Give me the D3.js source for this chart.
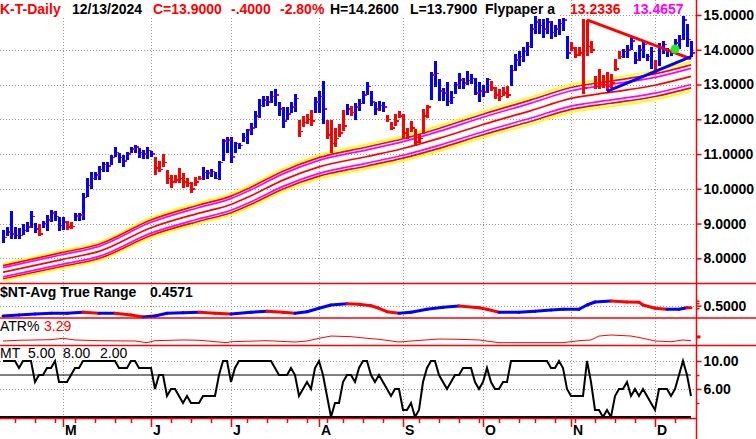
<!DOCTYPE html>
<html>
<head>
<meta charset="utf-8">
<script src="https://cdn.jsdelivr.net/npm/d3@7"></script>
<style>
  body { margin: 0; background: #fff; }
  svg { display: block; font-family: 'Liberation Sans', Arial, sans-serif; }
</style>
</head>
<body>
<script>
const ticker = 'K-T-Daily'
const lastDate = '12/13/2024'

// daily bars, 10 Apr .. 13 Dec 2024 (TSX sessions)
const highs = [
  8.82, 8.90, 9.36, 8.90, 8.87, 8.99, 9.04, 9.36, 9.01, 8.99,
  9.07, 9.25, 9.39, 9.36, 9.19, 9.19, 9.07, 9.04, 9.30, 9.30,
  9.89, 10.32, 10.49, 10.49, 10.66, 10.78, 10.78, 10.98, 11.21, 11.04,
  10.98, 11.07, 11.21, 11.27, 11.18, 11.13, 11.21, 11.10, 10.92, 10.81,
  11.01, 10.55, 10.40, 10.40, 10.60, 10.46, 10.32, 10.20, 10.35, 10.37,
  10.64, 10.54, 10.57, 10.49, 10.80, 11.43, 11.50, 11.50, 11.34, 11.31,
  11.61, 11.71, 11.88, 12.23, 12.57, 12.66, 12.66, 12.80, 12.86, 12.49,
  12.34, 12.34, 12.49, 12.72, 11.97, 12.08, 12.14, 12.26, 12.63, 12.80,
  13.09, 11.99, 11.99, 11.76, 11.85, 12.28, 12.43, 12.37, 12.46, 12.57,
  12.80, 13.06, 12.80, 12.51, 12.54, 12.49, 12.11, 11.91, 12.14, 12.23,
  12.14, 11.76, 11.94, 11.71, 11.59, 12.29, 12.41, 13.35, 13.68, 13.16,
  12.89, 13.06, 12.81, 13.08, 13.32, 13.18, 13.39, 13.30, 13.18, 13.06,
  12.99, 13.18, 13.09, 12.92, 12.86, 12.92, 12.95, 13.55, 13.87, 13.96,
  14.08, 14.22, 14.74, 14.97, 14.88, 14.88, 14.91, 14.83, 14.71, 14.88,
  14.91, 14.39, 14.22, 14.08, 14.08, 14.88, 14.86, 14.25, 13.24, 13.46,
  13.27, 13.35, 13.30, 13.72, 13.96, 14.02, 14.13, 14.39, 13.93, 14.13,
  14.28, 13.87, 14.08, 13.70, 14.19, 14.25, 14.05, 13.96, 14.31, 14.42,
  14.97, 14.74, 14.26
]
const lows = [
  8.44, 8.64, 8.56, 8.56, 8.56, 8.67, 8.76, 8.87, 8.73, 8.64,
  8.87, 8.79, 9.04, 9.07, 8.79, 8.82, 8.82, 8.85, 9.07, 9.07,
  9.10, 9.77, 10.00, 10.26, 10.26, 10.49, 10.49, 10.69, 10.92, 10.75,
  10.63, 10.84, 11.04, 11.04, 10.89, 10.87, 10.87, 10.92, 10.40, 10.49,
  10.63, 10.14, 10.03, 10.17, 10.17, 10.03, 10.06, 9.88, 10.09, 10.26,
  10.25, 10.27, 10.33, 10.27, 10.25, 10.81, 11.02, 10.75, 11.02, 11.15,
  11.36, 11.29, 11.55, 11.76, 12.05, 12.34, 12.37, 12.46, 12.37, 12.08,
  11.76, 11.99, 12.17, 12.20, 11.50, 11.79, 11.85, 11.82, 12.17, 12.17,
  11.85, 11.42, 11.04, 11.21, 11.50, 11.65, 12.11, 12.08, 11.97, 12.23,
  12.43, 12.69, 12.37, 12.11, 12.23, 12.20, 11.91, 11.68, 11.82, 12.05,
  11.45, 11.42, 11.62, 11.24, 11.33, 11.59, 12.03, 12.55, 12.94, 12.53,
  12.53, 12.39, 12.44, 12.73, 12.87, 12.87, 12.99, 13.01, 12.70, 12.51,
  12.65, 12.75, 12.80, 12.57, 12.54, 12.66, 12.60, 12.95, 13.38, 13.53,
  13.64, 13.82, 14.05, 14.45, 14.45, 14.34, 14.45, 14.31, 14.36, 14.42,
  14.53, 13.73, 13.96, 13.76, 13.82, 12.72, 13.82, 13.90, 12.86, 12.86,
  12.89, 12.80, 12.89, 13.38, 13.73, 13.76, 13.76, 13.99, 13.58, 13.67,
  13.76, 13.67, 13.44, 13.32, 13.53, 13.87, 13.79, 13.82, 13.90, 14.02,
  14.28, 14.08, 13.79
]
const closes = [
  8.60, 8.75, 8.70, 8.65, 8.66, 8.80, 8.90, 9.20, 8.85, 8.70,
  9.00, 9.10, 9.30, 9.20, 8.95, 9.05, 8.90, 8.92, 9.22, 9.25,
  9.75, 10.10, 10.30, 10.40, 10.55, 10.70, 10.65, 10.90, 11.05, 10.90,
  10.80, 11.00, 11.15, 11.20, 11.05, 11.00, 11.10, 11.00, 10.60, 10.55,
  10.75, 10.30, 10.20, 10.25, 10.30, 10.20, 10.15, 10.00, 10.20, 10.30,
  10.47, 10.45, 10.50, 10.30, 10.76, 11.38, 11.40, 10.92, 11.31, 11.25,
  11.48, 11.69, 11.75, 12.10, 12.40, 12.55, 12.50, 12.65, 12.70, 12.30,
  11.95, 12.15, 12.35, 12.60, 11.65, 11.90, 12.00, 11.95, 12.50, 12.65,
  12.30, 11.55, 11.30, 11.45, 11.60, 11.80, 12.30, 12.20, 12.35, 12.45,
  12.70, 12.95, 12.50, 12.30, 12.40, 12.35, 12.00, 11.75, 11.95, 12.10,
  11.60, 11.50, 11.75, 11.35, 11.45, 12.10, 12.36, 13.27, 13.32, 12.82,
  12.75, 12.51, 12.63, 12.99, 13.13, 13.04, 13.11, 13.18, 12.76, 12.82,
  12.79, 13.15, 12.90, 12.70, 12.65, 12.75, 12.70, 13.40, 13.70, 13.80,
  13.95, 14.10, 14.60, 14.80, 14.70, 14.60, 14.80, 14.50, 14.60, 14.75,
  14.85, 13.90, 14.05, 13.85, 13.90, 12.90, 14.10, 14.00, 12.95, 13.00,
  13.00, 12.95, 13.05, 13.45, 13.80, 13.95, 14.00, 14.25, 13.70, 14.00,
  14.15, 13.80, 13.95, 13.40, 14.05, 14.15, 13.95, 13.90, 14.20, 14.30,
  14.85, 14.30, 13.90
]
// b = blue (up trend) bar, r = red (down trend) bar
const barColors =
  'bbbbbbbbbr' + 'bbbbbbrrbb' + 'bbbbbbbbbb' + 'bbbbbbbbrr' + 'rrrrrrrrrr' +
  'bbbbbbbbbb' + 'bbbbbbbbbb' + 'bbbbrrrrbb' + 'brrrrrbrbb' + 'bbbbbbrrrr' +
  'rrrrrrrbbb' + 'bbbbbbbbbb' + 'bbrrrrrbbb' + 'bbbbbbbbbb' + 'bbrrrrrrrr' +
  'rrrrrbbbbb' + 'bbbrbbbbbb' + 'bbb'

// Flypaper envelope: middle line read at these bars, plus percentage bands
const bandIdx = [0, 15, 24, 37, 49, 57, 62, 70, 79, 91, 100, 109, 120, 132, 142, 152, 163, 172]
const bandMid = [7.60, 7.97, 8.20, 8.88, 9.30, 9.55, 9.80, 10.25, 10.63, 10.93, 11.16, 11.45, 11.85, 12.25, 12.60, 12.78, 12.98, 13.2336]
const bandPct = [0.032, 0.025, 0.01754, 0, -0.01754, -0.025, -0.032]
const bandColors = ['#ffff00', '#ff0000', '#ff00ff', '#ff0000', '#ff00ff', '#ff0000', '#ffff00']

// Flypaper triangle
const flyTop = [{ i: 146, v: 14.86 }, { i: 172, v: 13.74 }]
const flyBottom = [{ i: 151, v: 12.80 }, { i: 172, v: 13.80 }]
const flyDot = { i: 168, v: 14.02 }

// average true range
const atrIdx = [0, 4, 8, 12, 16, 20, 24, 28, 32, 35, 38, 41, 45, 49, 53, 57, 62, 66, 70, 73,
  76, 79, 82, 86, 89, 92, 94, 96, 99, 102, 106, 110, 114, 119, 121, 124, 129, 133, 137, 140,
  144, 146, 148, 152, 156, 159, 160, 163, 166, 169, 171, 172]
const atrVal = [0.294, 0.314, 0.334, 0.348, 0.348, 0.368, 0.348, 0.348, 0.314, 0.274,
  0.294, 0.348, 0.36, 0.368, 0.348, 0.334, 0.368, 0.388, 0.368, 0.348,
  0.38, 0.448, 0.514, 0.54, 0.528, 0.50, 0.448, 0.38, 0.348, 0.368,
  0.428, 0.468, 0.494, 0.46, 0.428, 0.368, 0.368, 0.388, 0.414, 0.428,
  0.428, 0.514, 0.574, 0.594, 0.574, 0.568, 0.514, 0.448, 0.428, 0.428,
  0.46, 0.4571]

// ATR as percent of price
const pctIdx = [0, 4, 8, 12, 15, 18, 24, 33, 36, 38, 45, 49, 56, 57, 66, 73, 76, 79, 82, 87,
  91, 94, 99, 102, 109, 114, 119, 124, 140, 144, 147, 149, 152, 157, 160, 163, 167, 170, 172]
const pctVal = [3.24, 3.36, 3.41, 3.46, 3.69, 3.41, 3.29, 3.24, 2.96, 3.29,
  3.41, 3.36, 2.96, 3.12, 3.29, 3.07, 3.24, 3.69, 4.07, 3.96,
  3.69, 3.52, 3.07, 3.24, 3.57, 3.52, 3.41, 2.96, 2.96, 3.29,
  3.41, 4.07, 4.24, 4.07, 3.69, 3.24, 3.12, 3.41, 3.29]

// MT oscillator, one value per bar
const mtVals = [
  10, 10, 10, 10, 9, 10, 10, 10, 7, 8,
  8, 9, 9, 10, 7, 7, 7, 8, 9, 9,
  10, 10, 10, 10, 10, 10, 10, 10, 10, 9,
  9, 9, 10, 10, 9, 9, 9, 9, 6, 8,
  8, 5, 6, 6, 5, 4, 5, 4, 4, 4,
  5, 5, 5, 5, 8, 10, 10, 7, 9, 10,
  10, 10, 10, 10, 10, 10, 10, 10, 9, 8,
  8, 8, 9, 8, 5, 6, 7, 6, 9, 10,
  8, 5, 2, 4, 4, 7, 8, 8, 7, 9,
  10, 10, 8, 7, 8, 7, 6, 5, 6, 6,
  3, 3, 4, 2, 3, 7, 9, 10, 10, 8,
  7, 6, 7, 8, 8, 9, 9, 9, 7, 6,
  7, 9, 7, 6, 6, 7, 7, 10, 10, 10,
  10, 10, 10, 10, 10, 10, 10, 9, 9, 10,
  9, 6, 5, 5, 5, 5, 10, 7, 3, 3,
  2, 3, 2, 5, 6, 6, 7, 5, 6, 5,
  6, 5, 4, 3, 6, 6, 6, 5, 6, 8,
  10, 8, 5
]
const mtLevels = [8, 2]

const priceTicks = [8, 9, 10, 11, 12, 13, 14, 15]
const monthIdx = [15, 37, 57, 79, 100, 120, 142, 163]
const monthLabels = ['M', 'J', 'J', 'A', 'S', 'O', 'N', 'D']
const weekIdx = [3, 8, 13, 18, 23, 28, 32, 42, 47, 52, 61, 66, 71, 76, 81, 85, 90, 95,
  104, 109, 114, 119, 124, 129, 133, 138, 143, 148, 153, 158, 168]

const width = 756
const height = 439
const axisX = 696.5
const panels = { main: 283.5, atr: 318, pct: 345.5, mt: 418 }
const BLUE = '#0000ff'
const RED = '#ff0000'
const MAGENTA = '#ff00ff'

const svg = d3.select('body').append('svg')
  .attr('width', width)
  .attr('height', height)

svg.append('rect').attr('width', width).attr('height', height).attr('fill', '#fff')

const last = highs.length - 1
const x = d3.scaleLinear().domain([0, last]).range([3, 691])
const y = d3.scaleLinear().domain([8, 15]).range([258.3, 15])
const yAtr = d3.scaleLinear().domain([0.5, 0.6]).range([305.7, 300.7])
const yPct = d3.scaleLinear().domain([3.29, 4.29]).range([340.7, 334.7])
const yMt = d3.scaleLinear().domain([2, 10]).range([417, 361])

function dotted (g, x1, y1, x2, y2) {
  g.append('line')
    .attr('x1', x1).attr('y1', y1).attr('x2', x2).attr('y2', y2)
    .attr('stroke', '#9a9a9a')
    .attr('stroke-width', 1)
    .attr('stroke-dasharray', '1,2')
}

// grid
const grid = svg.append('g').attr('shape-rendering', 'crispEdges')
priceTicks.forEach(p => dotted(grid, p === 15 ? 560 : 0, Math.round(y(p)) + 0.5, axisX, Math.round(y(p)) + 0.5))
monthIdx.forEach(i => dotted(grid, Math.round(x(i)) + 0.5, 0, Math.round(x(i)) + 0.5, panels.mt))
dotted(grid, 0, Math.round(yAtr(0.5)) + 0.5, axisX, Math.round(yAtr(0.5)) + 0.5)
;[10, 6].forEach(v => dotted(grid, 0, Math.round(yMt(v)) + 0.5, axisX, Math.round(yMt(v)) + 0.5))

// header strip hides the grid under the text
svg.append('rect').attr('x', 0).attr('y', 0).attr('width', 560).attr('height', 16).attr('fill', '#fff')

// envelope bands
const bandPts = bandIdx.map((d, k) => ({ i: d, v: bandMid[k] }))
const bands = svg.append('g')
bandPct.forEach((k, n) => {
  const line = d3.line()
    .x(d => x(d.i))
    .y(d => y(d.v * (1 + k)))
    .curve(d3.curveMonotoneX)
  bands.append('path')
    .datum(bandPts)
    .attr('d', line)
    .attr('fill', 'none')
    .attr('stroke', bandColors[n])
    .attr('stroke-width', 1.7)
})

// price bars
const bars = svg.append('g').attr('shape-rendering', 'crispEdges')
const barData = highs.map((h, i) => ({ i, h, l: lows[i], c: closes[i], up: barColors[i] === 'b' }))
bars.selectAll('rect.bar')
  .data(barData)
  .enter()
  .append('rect')
  .attr('class', 'bar')
  .attr('x', d => x(d.i) - 1.5)
  .attr('width', 3)
  .attr('y', d => y(d.h))
  .attr('height', d => Math.max(1, y(d.l) - y(d.h)))
  .attr('fill', d => d.up ? BLUE : RED)
bars.selectAll('rect.close')
  .data(barData)
  .enter()
  .append('rect')
  .attr('class', 'close')
  .attr('x', d => x(d.i) + 1.5)
  .attr('width', 2)
  .attr('y', d => y(d.c) - 0.75)
  .attr('height', 1.5)
  .attr('fill', RED)

// flypaper triangle
const flyLine = d3.line().x(d => x(d.i)).y(d => y(d.v))
svg.append('path').datum(flyTop).attr('d', flyLine)
  .attr('stroke', RED).attr('stroke-width', 3).attr('fill', 'none')
svg.append('path').datum(flyBottom).attr('d', flyLine)
  .attr('stroke', BLUE).attr('stroke-width', 3).attr('fill', 'none')
svg.append('circle')
  .attr('cx', x(flyDot.i)).attr('cy', y(flyDot.v)).attr('r', 4.5)
  .attr('fill', '#22ee22')

// ATR line: blue while rising, red while falling
const atrPts = atrIdx.map((d, k) => ({ i: d, v: atrVal[k] }))
const atrG = svg.append('g')
d3.pairs(atrPts).forEach(([a, b]) => {
  atrG.append('line')
    .attr('x1', x(a.i)).attr('y1', yAtr(a.v))
    .attr('x2', x(b.i)).attr('y2', yAtr(b.v))
    .attr('stroke', b.v >= a.v ? BLUE : RED)
    .attr('stroke-width', 3)
    .attr('stroke-linecap', 'round')
})

// ATR %
const pctPts = pctIdx.map((d, k) => ({ i: d, v: pctVal[k] }))
svg.append('path')
  .datum(pctPts)
  .attr('d', d3.line().x(d => x(d.i)).y(d => yPct(d.v)))
  .attr('fill', 'none')
  .attr('stroke', RED)
  .attr('stroke-width', 1)

// MT oscillator
svg.append('line')
  .attr('x1', 0).attr('x2', x(last))
  .attr('y1', yMt(mtLevels[0])).attr('y2', yMt(mtLevels[0]))
  .attr('stroke', '#000').attr('stroke-width', 1)
svg.append('line')
  .attr('x1', 0).attr('x2', x(last))
  .attr('y1', yMt(mtLevels[1])).attr('y2', yMt(mtLevels[1]))
  .attr('stroke', '#000').attr('stroke-width', 2)
svg.append('path')
  .datum(mtVals)
  .attr('d', d3.line().x((d, i) => x(i)).y(d => yMt(d)))
  .attr('fill', 'none')
  .attr('stroke', '#000')
  .attr('stroke-width', 2)

// panel borders
const borders = svg.append('g').attr('stroke', RED).attr('stroke-width', 1.5)
;[panels.main, panels.atr, panels.pct].forEach(v => {
  borders.append('line').attr('x1', 0).attr('x2', width).attr('y1', v).attr('y2', v)
})
borders.append('line').attr('x1', 0).attr('x2', axisX).attr('y1', panels.mt + 0.5).attr('y2', panels.mt + 0.5)
borders.append('line').attr('x1', axisX).attr('x2', axisX).attr('y1', 0).attr('y2', height)

// right axes
function styleAxis (g) {
  g.select('.domain').remove()
  g.selectAll('.tick line').attr('stroke', RED).attr('stroke-width', 1.5)
  g.selectAll('.tick text')
    .attr('fill', '#000')
    .style('font-family', "'Liberation Sans', Arial, sans-serif")
    .style('font-size', '14px')
    .style('font-weight', 'bold')
}

svg.append('g')
  .attr('transform', `translate(${axisX},0)`)
  .call(d3.axisRight(y).tickValues(priceTicks).tickFormat(d3.format('.4f')).tickSize(5).tickPadding(2))
  .call(styleAxis)

svg.append('g')
  .attr('transform', `translate(${axisX},0)`)
  .call(d3.axisRight(yAtr).tickValues([0.5]).tickFormat(d3.format('.4f')).tickSize(5).tickPadding(2))
  .call(styleAxis)
svg.append('g')
  .attr('transform', `translate(${axisX},0)`)
  .call(d3.axisRight(yAtr).tickValues([0.45, 0.55, 0.6]).tickFormat('').tickSize(3))
  .call(styleAxis)

svg.append('g')
  .attr('transform', `translate(${axisX},0)`)
  .call(d3.axisRight(yPct).tickValues([4]).tickFormat('').tickSize(4))
  .call(styleAxis)
  .selectAll('.tick line').attr('stroke-width', 3)

svg.append('g')
  .attr('transform', `translate(${axisX},0)`)
  .call(d3.axisRight(yMt).tickValues([6, 10]).tickFormat(d3.format('.2f')).tickSize(5).tickPadding(2))
  .call(styleAxis)
svg.append('g')
  .attr('transform', `translate(${axisX},0)`)
  .call(d3.axisRight(yMt).tickValues([4, 8]).tickFormat('').tickSize(3))
  .call(styleAxis)

// time axis
svg.append('g')
  .attr('transform', `translate(0,${panels.mt + 1})`)
  .call(d3.axisBottom(x).tickValues(weekIdx).tickFormat('').tickSize(4))
  .call(styleAxis)
svg.append('g')
  .attr('transform', `translate(0,${panels.mt + 1})`)
  .call(d3.axisBottom(x).tickValues(monthIdx).tickFormat('').tickSize(8))
  .call(styleAxis)
svg.append('g')
  .selectAll('text')
  .data(monthIdx)
  .enter()
  .append('text')
  .attr('x', d => x(d) + 2)
  .attr('y', 435)
  .attr('font-size', 14)
  .attr('font-weight', 'bold')
  .text((d, k) => monthLabels[k])

// header and panel titles
const fmt4 = v => d3.format('.4f')(v).replace('−', '-').replace(/^(-?)0\./, '$1.')
const change = closes[last] - closes[last - 1]
const changePct = change / closes[last - 1] * 100
const midLast = bandMid[bandMid.length - 1]

const header = [
  { t: ticker, x: 0, c: RED },
  { t: lastDate, x: 72, c: '#000' },
  { t: 'C=' + d3.format('.4f')(closes[last]), x: 153, c: RED },
  { t: fmt4(change), x: 231, c: RED },
  { t: d3.format('.2f')(changePct).replace('−', '-') + '%', x: 280, c: RED },
  { t: 'H=' + d3.format('.4f')(highs[last]), x: 330, c: '#000' },
  { t: 'L=' + d3.format('.4f')(lows[last]), x: 410, c: '#000' },
  { t: 'Flypaper a', x: 485, c: '#000' },
  { t: d3.format('.4f')(midLast), x: 570, c: RED },
  { t: d3.format('.4f')(midLast * (1 + bandPct[2])), x: 633, c: MAGENTA }
]
svg.append('g')
  .selectAll('text')
  .data(header)
  .enter()
  .append('text')
  .attr('x', d => d.x)
  .attr('y', 14)
  .attr('font-size', 14)
  .attr('font-weight', 'bold')
  .attr('fill', d => d.c)
  .text(d => d.t)

const titles = [
  { t: '$NT-Avg True Range', x: 0, y: 297, c: '#000', w: 'bold' },
  { t: d3.format('.4f')(atrVal[atrVal.length - 1]), x: 150, y: 297, c: '#000', w: 'bold' },
  { t: 'ATR%', x: 0, y: 331, c: '#000', w: 'normal' },
  { t: d3.format('.2f')(pctVal[pctVal.length - 1]), x: 44, y: 331, c: RED, w: 'normal' },
  { t: 'MT', x: 0, y: 358, c: '#000', w: 'normal' },
  { t: d3.format('.2f')(mtVals[last]), x: 28, y: 358, c: '#000', w: 'normal' },
  { t: d3.format('.2f')(mtLevels[0]), x: 63, y: 358, c: '#000', w: 'normal' },
  { t: d3.format('.2f')(mtLevels[1]), x: 100, y: 358, c: '#000', w: 'normal' }
]
svg.append('g')
  .selectAll('text')
  .data(titles)
  .enter()
  .append('text')
  .attr('x', d => d.x)
  .attr('y', d => d.y)
  .attr('font-size', 14)
  .attr('font-weight', d => d.w)
  .attr('fill', d => d.c)
  .text(d => d.t)
</script>
</body>
</html>
